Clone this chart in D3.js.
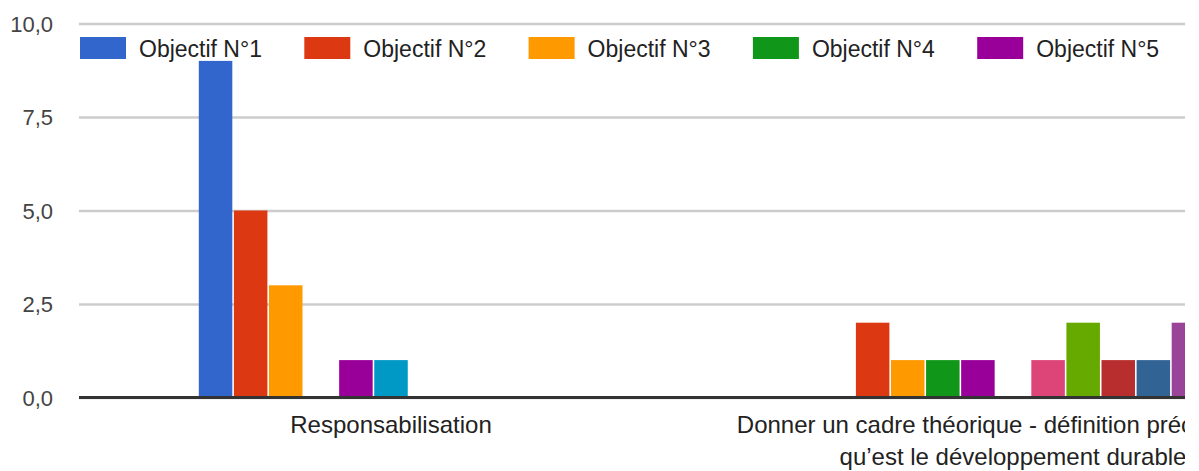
<!DOCTYPE html>
<html>
<head>
<meta charset="utf-8">
<script src="https://cdn.jsdelivr.net/npm/d3@7"></script>
<style>
  body { margin: 0; background: #fff; }
  svg { display: block; font-family: "Liberation Sans", Arial, sans-serif; }
</style>
</head>
<body>
<script>
// data
var categories = [
  ["Responsabilisation"],
  ["Donner un cadre théorique - définition précise de ce", "qu’est le développement durable"]
];
var series = ["Objectif N°1", "Objectif N°2", "Objectif N°3", "Objectif N°4", "Objectif N°5",
              "Objectif N°6", "Objectif N°7", "Objectif N°8", "Objectif N°9", "Objectif N°10", "Objectif N°11"];
var responsabilisation = [9, 5, 3, 0, 1, 1, 0, 0, 0, 0, 0];
var cadreTheorique     = [0, 2, 1, 1, 1, 0, 1, 2, 1, 1, 2];
var yTicks = [0, 2.5, 5, 7.5, 10];
var legendShown = 5;

var colors = ["#3366cc", "#dc3912", "#ff9900", "#109618", "#990099", "#0099c6",
              "#dd4477", "#66aa00", "#b82e2e", "#316395", "#994499"];

var values = [responsabilisation, cadreTheorique];

var width = 1199, height = 471,
    margin = {left: 79, top: 23.5, bottom: 397.5},
    band = 622,
    clipRight = 1185;

var fr = d3.formatLocale({decimal: ",", thousands: " ", grouping: [3], currency: ["", "€"]});

var svg = d3.select("body").append("svg")
    .attr("width", width)
    .attr("height", height);

svg.append("clipPath").attr("id", "clip")
  .append("rect")
    .attr("x", 0).attr("y", 0)
    .attr("width", clipRight).attr("height", height);

var g = svg.append("g").attr("clip-path", "url(#clip)");

// scales
var x0 = d3.scaleBand()
    .domain(d3.range(categories.length))
    .range([margin.left + 1, margin.left + 1 + band * categories.length])
    .padding(0);

var groupW = x0.bandwidth() * 0.618;
var x1 = d3.scaleBand()
    .domain(d3.range(series.length))
    .range([0, groupW])
    .paddingInner(0.045);

var y = d3.scaleLinear()
    .domain([0, 10])
    .range([margin.bottom, margin.top]);

// grid + y labels
var yAxis = g.append("g")
    .attr("transform", "translate(" + margin.left + ",0)")
    .call(d3.axisLeft(y).tickValues(yTicks).tickSize(-(clipRight - margin.left)).tickPadding(26)
      .tickFormat(fr.format(".1f")));
yAxis.select(".domain").remove();
yAxis.selectAll(".tick line").attr("stroke", "#cccccc").attr("stroke-width", 2.4);
yAxis.selectAll(".tick text")
    .attr("fill", "#444").attr("font-size", 22).attr("dy", "0.36em");

// bars
var groups = g.selectAll(".group")
    .data(values)
    .enter().append("g")
    .attr("class", "group")
    .attr("transform", function(d, i) {
      return "translate(" + (x0(i) + (x0.bandwidth() - groupW) / 2) + ",0)";
    });

groups.selectAll("rect")
    .data(function(d) { return d.map(function(v, k) { return {k: k, v: v}; }); })
    .enter().append("rect")
    .filter(function(d) { return d.v > 0; })
    .attr("x", function(d) { return x1(d.k); })
    .attr("width", x1.bandwidth())
    .attr("y", function(d) { return y(d.v); })
    .attr("height", function(d) { return y(0) - y(d.v); })
    .attr("fill", function(d) { return colors[d.k]; });

// baseline
g.append("line")
    .attr("x1", margin.left).attr("x2", clipRight)
    .attr("y1", y(0)).attr("y2", y(0))
    .attr("stroke", "#333").attr("stroke-width", 3);

// category labels (clipped at the right edge, as in the original)
var labels = g.selectAll(".cat")
    .data(categories)
    .enter().append("text")
    .attr("class", "cat")
    .attr("text-anchor", "middle")
    .attr("font-size", 24)
    .attr("fill", "#222");
labels.selectAll("tspan")
    .data(function(d, i) { return d.map(function(t) { return {t: t, i: i}; }); })
    .enter().append("tspan")
    .attr("x", function(d) { return x0(d.i) + x0.bandwidth() / 2; })
    .attr("y", function(d, j) { return 432.5 + j * 32; })
    .text(function(d) { return d.t; });

// legend (first page only)
var legend = svg.append("g").selectAll(".leg")
    .data(series.slice(0, legendShown))
    .enter().append("g")
    .attr("class", "leg")
    .attr("transform", function(d, i) { return "translate(" + (80 + i * 224.3) + ",37)"; });
legend.append("rect")
    .attr("width", 46).attr("height", 22)
    .attr("fill", function(d, i) { return colors[i]; });
legend.append("text")
    .attr("x", 59).attr("y", 20)
    .attr("font-size", 23)
    .attr("fill", "#222")
    .text(function(d) { return d; });
</script>
</body>
</html>
